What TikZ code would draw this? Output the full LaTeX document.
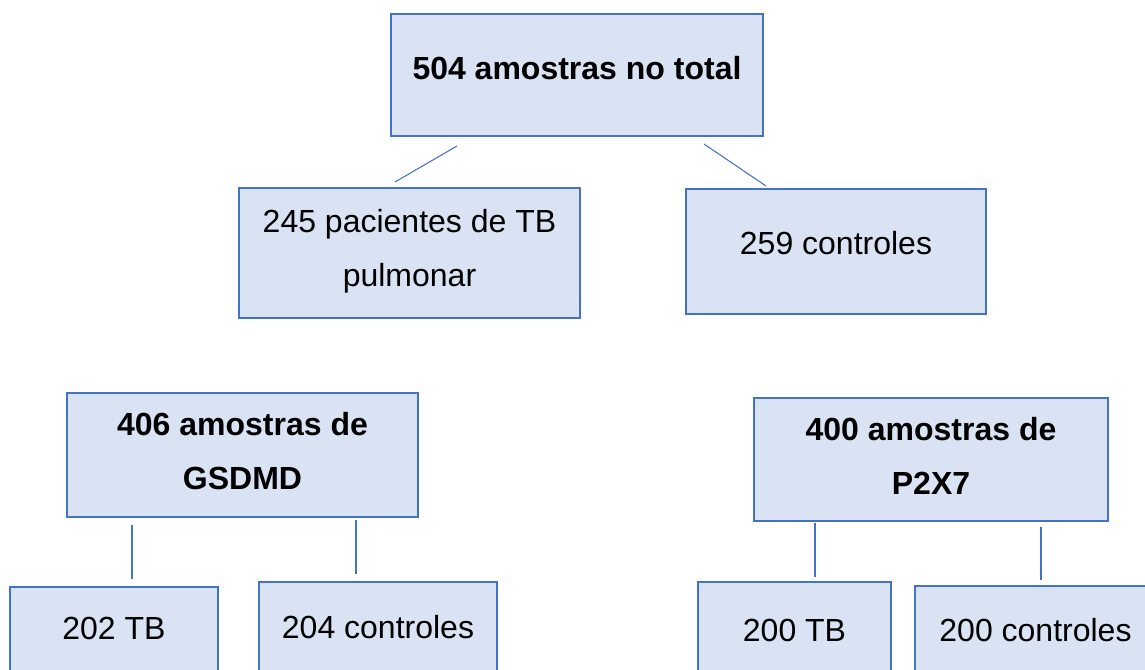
\documentclass[tikz,border=0pt]{standalone}
\usepackage{fontspec}
\setmainfont{Liberation Sans}
\usetikzlibrary{calc}
\definecolor{bordaazul}{HTML}{4472C4}
\definecolor{fundoazul}{HTML}{DAE3F3}
\tikzstyle{caixa}   =[draw=bordaazul, fill=fundoazul, line width=1.3pt, inner sep=0pt, align=center, text height=17pt, font=\fontsize{24}{40.5}\selectfont]
\tikzstyle{titulo}  =[caixa, font=\fontsize{24}{40.5}\selectfont\bfseries]
\tikzstyle{duas}    =[text height=57.5pt]
\tikzstyle{traco}   =[draw=bordaazul, line width=0.8pt]

\begin{document}
\begin{tikzpicture}[x=0.75pt,y=-0.75pt]

\useasboundingbox (0,0) rectangle (1145,670);
\clip (0,0) rectangle (1145,670);

%%%%%%%%%%%%%%%%%%%%%%%%
%Total das amostras
%%%%%%%%%%%%%%%%%%%%%%%%

\node[titulo, minimum width=279pt, minimum height=91.5pt, text depth=10.5pt] (total) at (577,75) {504 amostras no total};
\node[caixa, duas, minimum width=255.75pt, minimum height=97.5pt, text depth=7.5pt] (pacientes) at (409.5,253) {245 pacientes de TB\\pulmonar};
\node[caixa, minimum width=225pt, minimum height=93.75pt, text depth=12.75pt] (controles) at (836,251.5) {259 controles};

\coordinate (t1) at (457,146); \coordinate (p1) at (395,182);
\coordinate (t2) at (704,144); \coordinate (c1) at (766,186);
\draw[traco] (t1)--(p1);
\draw[traco] (t2)--(c1);

%%%%%%%%%%%%%%%%%%%%%%%%
%Amostras de GSDMD
%%%%%%%%%%%%%%%%%%%%%%%%

\node[titulo, duas, minimum width=263.25pt, minimum height=93pt, text depth=5.25pt] (gsdmd) at (242.5,455) {406 amostras de\\GSDMD};
\node[caixa, minimum width=156pt, minimum height=90pt, text depth=28.5pt] (gtb) at (114,647) {202 TB};
\node[caixa, minimum width=178.5pt, minimum height=90pt, text depth=22.5pt] (gcont) at (378,642) {204 controles};

\coordinate (g1) at (132,525); \coordinate (g2) at (132,579);
\coordinate (g3) at (356,520); \coordinate (g4) at (356,574);
\draw[traco] (g1)--(g2);
\draw[traco] (g3)--(g4);

%%%%%%%%%%%%%%%%%%%%%%%%
%Amostras de P2X7
%%%%%%%%%%%%%%%%%%%%%%%%

\node[titulo, duas, minimum width=265.5pt, minimum height=92.25pt, text depth=5.25pt] (p2x7) at (931,459.5) {400 amostras de\\P2X7};
\node[caixa, minimum width=144.75pt, minimum height=90pt, text depth=18pt] (ptb) at (794.5,642) {200 TB};
\node[caixa, minimum width=180.75pt, minimum height=90pt, text depth=24pt] (pcont) at (1035.5,646) {200 controles};

\coordinate (q1) at (815,523); \coordinate (q2) at (815,577);
\coordinate (q3) at (1041,527); \coordinate (q4) at (1041,580);
\draw[traco] (q1)--(q2);
\draw[traco] (q3)--(q4);

\end{tikzpicture}
\end{document}
